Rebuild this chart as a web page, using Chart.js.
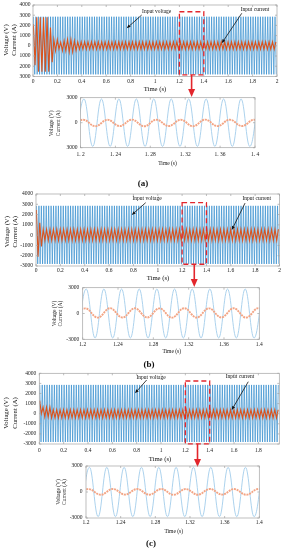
<!DOCTYPE html>
<html>
<head>
<meta charset="utf-8">
<script src="https://cdn.jsdelivr.net/npm/chart.js@4.4.1/dist/chart.umd.min.js"></script>
<style>
  body { margin: 0; background: #fff; width: 285px; height: 550px; position: relative; overflow: hidden; }
  canvas { position: absolute; left: 0; }
  .tag { position: absolute; font: bold 9px "Liberation Serif", serif; color: #111; transform: translate(-50%, -50%); }
</style>
</head>
<body>
<canvas id="ovA"></canvas>
<canvas id="zmA"></canvas>
<canvas id="ovB"></canvas>
<canvas id="zmB"></canvas>
<canvas id="ovC"></canvas>
<canvas id="zmC"></canvas>
<div class="tag" style="left:143px;top:183px">(a)</div>
<div class="tag" style="left:149px;top:364px">(b)</div>
<div class="tag" style="left:151px;top:543px">(c)</div>
<script>
// --- data ---
// peak timing (from the 1.2-1.4 s windows): voltage 50 Hz, current a bit slower
const voltFirstPeak = 0.004;
const voltHalf = 0.01;
const curFirstPeak = 0.003;
const curHalf = 0.014;

// overview envelopes: segment start (s), upper peak, lower peak
const voltSegStart = [0];
const voltSegHi = [2850];
const voltSegLo = [-2800];

const curSegStartA = [0, 0.02, 0.13, 0.16, 0.2, 0.24, 0.27, 0.33, 0.36];
const curSegHiA = [2100, 2800, 1800, 600, 350, 500, 620, 480, 390];
const curSegLoA = [-1900, -2550, -1600, -500, -330, -480, -600, -460, -350];

const curSegStartB = [0, 0.02, 0.05];
const curSegHiB = [2450, 1200, 570];
const curSegLoB = [-2100, -1100, -500];

const curSegStartC = [0, 0.02, 0.09];
const curSegHiC = [1300, 650, 390];
const curSegLoC = [0, -320, -420];

// zoom windows: successive peaks starting at zoomVoltStart / zoomCurStart
const zoomVoltStart = 1.194;
const zoomCurStart = 1.189;
const voltZoom = [-2850, 2850, -2850, 2850, -2850, 2850, -2850, 2850, -2850, 2850, -2850,
                  2850, -2850, 2850, -2850, 2850, -2850, 2850, -2850, 2850, -2850, 2850];
const curZoomA = [-400, 360, -420, 350, -410, 370, -430, 360, -400, 350, -420, 370, -410, 360, -400, 350, -420];
const curZoomB = [-460, 600, -480, 620, -470, 610, -460, 600, -480, 620, -470, 600, -460, 610, -480, 620, -470];
const curZoomC = [-310, 340, -320, 350, -300, 340, -310, 350, -320, 340, -310, 350, -300, 340, -320, 350, -310];

// tick labels
const ovXTicks = [0, 0.2, 0.4, 0.6, 0.8, 1, 1.2, 1.4, 1.6, 1.8, 2];
const ovXTicksC = [0, 0.2, 0.4, 0.6, 0.8, 1, 1.2, 1.4, 1.6, 1.8];
const ovYTicks = [4000, 3000, 2000, 1000, 0, -1000, -2000, -3000];
const zmXTicks = [1.2, 1.24, 1.28, 1.32, 1.36, 1.4];
const zmYTicks = [3000, 0, -3000];

// --- helpers ---
function peaks(first, half, tEnd, starts, his, los) {
  const pts = [];
  for (let k = 0; first + k * half <= tEnd; k++) {
    const t = first + k * half;
    let s = 0;
    while (s + 1 < starts.length && starts[s + 1] <= t) s++;
    pts.push({ x: t, y: k % 2 === 0 ? his[s] : los[s] });
  }
  return pts;
}

function series(start, step, vals) {
  return vals.map((v, i) => ({ x: start + i * step, y: v }));
}

const serif = '"Liberation Serif", serif';
const RED = '#e3262c';

function arrow(ctx, x1, y1, x2, y2, len, wid, color, lw) {
  const ang = Math.atan2(y2 - y1, x2 - x1);
  const bx = x2 - len * Math.cos(ang), by = y2 - len * Math.sin(ang);
  ctx.strokeStyle = color; ctx.fillStyle = color; ctx.lineWidth = lw; ctx.setLineDash([]);
  ctx.beginPath(); ctx.moveTo(x1, y1); ctx.lineTo(bx, by); ctx.stroke();
  ctx.beginPath();
  ctx.moveTo(x2, y2);
  ctx.lineTo(bx + wid / 2 * Math.sin(ang), by - wid / 2 * Math.cos(ang));
  ctx.lineTo(bx - wid / 2 * Math.sin(ang), by + wid / 2 * Math.cos(ang));
  ctx.closePath(); ctx.fill();
}

function makePanel(id, p) {
  const cv = document.getElementById(id);
  const h = p.bottom - p.top;
  cv.width = 285; cv.height = h;
  cv.style.top = p.top + 'px';
  cv.style.width = '285px'; cv.style.height = h + 'px';

  const decor = {
    id: 'decor',
    afterDraw(chart) {
      const ctx = chart.ctx, a = chart.chartArea;
      const xs = chart.scales.x, ys = chart.scales.y;
      ctx.save();
      // frame with inner ticks
      ctx.strokeStyle = '#a3a3a3'; ctx.lineWidth = 0.7;
      ctx.strokeRect(a.left, a.top, a.right - a.left, a.bottom - a.top);
      ctx.beginPath();
      p.xTicks.forEach(v => {
        const x = xs.getPixelForValue(v);
        ctx.moveTo(x, a.bottom); ctx.lineTo(x, a.bottom - 2);
        ctx.moveTo(x, a.top); ctx.lineTo(x, a.top + 2);
      });
      p.yTicks.forEach(v => {
        const y = ys.getPixelForValue(v);
        ctx.moveTo(a.left, y); ctx.lineTo(a.left + 2, y);
        ctx.moveTo(a.right, y); ctx.lineTo(a.right - 2, y);
      });
      ctx.stroke();

      // axis titles
      ctx.fillStyle = '#111';
      ctx.textAlign = 'center'; ctx.textBaseline = 'middle';
      ctx.font = p.titleSize + 'px ' + serif;
      ctx.fillText('Time (s)', p.xTitle[0], p.xTitle[1] - p.top);
      ['Voltage (V)', 'Current (A)'].forEach((txt, i) => {
        ctx.save();
        ctx.translate(p.yTitleX[i], p.yTitleY - p.top);
        ctx.rotate(-Math.PI / 2);
        ctx.fillText(txt, 0, 0);
        ctx.restore();
      });

      // labels with black arrows
      (p.notes || []).forEach(n => {
        ctx.fillStyle = '#111';
        ctx.font = '5.5px ' + serif;
        ctx.fillText(n.text, xs.getPixelForValue(n.at[0]), ys.getPixelForValue(n.at[1]));
        arrow(ctx, xs.getPixelForValue(n.from[0]), ys.getPixelForValue(n.from[1]),
              xs.getPixelForValue(n.to[0]), ys.getPixelForValue(n.to[1]), 4, 3.2, '#111', 0.8);
      });

      // red dashed zoom box and arrow down to the zoom panel
      if (p.box) {
        const x1 = xs.getPixelForValue(p.box[0]), x2 = xs.getPixelForValue(p.box[1]);
        const y1 = ys.getPixelForValue(p.box[3]), y2 = ys.getPixelForValue(p.box[2]);
        ctx.strokeStyle = RED; ctx.lineWidth = 1.3; ctx.setLineDash([5, 3]);
        ctx.strokeRect(x1, y1, x2 - x1, y2 - y1);
        const cx = (x1 + x2) / 2;
        arrow(ctx, cx, y2, cx, p.arrowTip - p.top, 8, 7, RED, 1.6);
      }
      ctx.restore();
    }
  };

  const tickFont = { family: serif, size: 5.5 };
  new Chart(cv, {
    type: 'line',
    data: { datasets: p.datasets },
    options: {
      responsive: false,
      animation: false,
      devicePixelRatio: 1,
      parsing: false,
      layout: { padding: { top: p.T - p.top, right: 285 - p.R, left: 0, bottom: 0 } },
      plugins: { legend: { display: false }, tooltip: { enabled: false } },
      elements: { point: { radius: 0 } },
      scales: {
        x: {
          type: 'linear', min: p.xMin, max: p.xMax,
          afterFit: s => { s.height = p.bottom - p.B; s.paddingLeft = 0; s.paddingRight = 0; },
          afterBuildTicks: s => { s.ticks = p.xTicks.map(v => ({ value: v })); },
          grid: { display: false, drawTicks: false },
          border: { display: false },
          ticks: { autoSkip: false, maxRotation: 0, minRotation: 0, padding: p.xPad,
                   font: tickFont, color: '#222', callback: p.xFmt }
        },
        y: {
          type: 'linear', min: p.yMin, max: p.yMax,
          afterFit: s => { s.width = p.L; s.paddingTop = 0; s.paddingBottom = 0; },
          afterBuildTicks: s => { s.ticks = p.yTicks.map(v => ({ value: v })); },
          grid: { display: false, drawTicks: false },
          border: { display: false },
          ticks: { autoSkip: false, padding: p.yPad, font: tickFont, color: '#222', callback: p.yFmt }
        }
      }
    },
    plugins: [decor]
  });
}

function ovSets(tEnd, starts, his, los) {
  return [
    { data: peaks(curFirstPeak, curHalf, tEnd, starts, his, los),
      borderColor: '#d9531e', borderWidth: 1.1, tension: 0 },
    { data: peaks(voltFirstPeak, voltHalf, tEnd, voltSegStart, voltSegHi, voltSegLo),
      borderColor: '#3a91d0', borderWidth: 0.7, tension: 0 }
  ];
}

function zmSets(cur) {
  return [
    { data: series(zoomCurStart, curHalf, cur),
      borderColor: '#f3a585', borderWidth: 1.9, borderDash: [2, 0.8], tension: 0.4 },
    { data: series(zoomVoltStart, voltHalf, voltZoom),
      borderColor: '#a3cdeb', borderWidth: 0.9, tension: 0.4 }
  ];
}

const plain = v => String(v);
const noMinus = v => String(Math.abs(v));

// (a)
makePanel('ovA', {
  top: 0, bottom: 100, L: 33, R: 277, T: 5, B: 76.4,
  xMin: 0, xMax: 2, yMin: -3000, yMax: 4000,
  xTicks: ovXTicks, yTicks: ovYTicks, xFmt: plain, yFmt: noMinus, xPad: 2, yPad: 2.5,
  titleSize: 6.7, xTitle: [155, 89], yTitleX: [6.7, 14.3], yTitleY: 40,
  datasets: ovSets(2, curSegStartA, curSegHiA, curSegLoA),
  notes: [
    { text: 'Input voltage', at: [1.014, 3343], from: [0.891, 3020], to: [0.768, 1716] },
    { text: 'Input current', at: [1.82, 3510], from: [1.711, 3186], to: [1.547, 245] }
  ],
  box: [1.2, 1.4, -2850, 3340], arrowTip: 97
});
makePanel('zmA', {
  top: 92, bottom: 168, L: 80.5, R: 255, T: 97.7, B: 147.7,
  xMin: 1.2, xMax: 1.4, yMin: -3000, yMax: 3000,
  xTicks: zmXTicks, yTicks: zmYTicks, xFmt: v => String(v).replace('.', '. '), yFmt: noMinus,
  xPad: 3.5, yPad: 3,
  titleSize: 5.5, xTitle: [167.5, 163.3], yTitleX: [52, 59], yTitleY: 123.3,
  datasets: zmSets(curZoomA)
});

// (b)
makePanel('ovB', {
  top: 185, bottom: 290, L: 36, R: 279.5, T: 194, B: 266,
  xMin: 0, xMax: 2, yMin: -3000, yMax: 4000,
  xTicks: ovXTicks, yTicks: ovYTicks, xFmt: plain, yFmt: plain, xPad: 1.5, yPad: 3,
  titleSize: 6.7, xTitle: [158, 278], yTitleX: [7.3, 15], yTitleY: 231.7,
  datasets: ovSets(2, curSegStartB, curSegHiB, curSegLoB),
  notes: [
    { text: 'Input voltage', at: [0.912, 3582], from: [0.901, 3154], to: [0.786, 1959] },
    { text: 'Input current', at: [1.813, 3514], from: [1.717, 3115], to: [1.608, 501] }
  ],
  box: [1.2, 1.4, -2830, 3155], arrowTip: 287
});
makePanel('zmB', {
  top: 280, bottom: 356, L: 82.7, R: 259.3, T: 287.7, B: 339.3,
  xMin: 1.2, xMax: 1.4, yMin: -3000, yMax: 3000,
  xTicks: zmXTicks, yTicks: zmYTicks, xFmt: plain, yFmt: plain, xPad: 2.3, yPad: 3.5,
  titleSize: 5.5, xTitle: [171.7, 351.7], yTitleX: [55, 61], yTitleY: 313.5,
  datasets: zmSets(curZoomB)
});

// (c)
makePanel('ovC', {
  top: 366, bottom: 470, L: 39.3, R: 279.3, T: 373.3, B: 444,
  xMin: 0, xMax: 1.972, yMin: -3000, yMax: 4000,
  xTicks: ovXTicksC, yTicks: ovYTicks, xFmt: plain, yFmt: plain, xPad: 3.5, yPad: 3,
  titleSize: 6.7, xTitle: [160, 459.3], yTitleX: [6.7, 15], yTitleY: 413,
  datasets: ovSets(1.972, curSegStartC, curSegHiC, curSegLoC),
  notes: [
    { text: 'Input voltage', at: [0.918, 3604], from: [0.882, 3337], to: [0.786, 2020] },
    { text: 'Input current', at: [1.649, 3663], from: [1.717, 3168], to: [1.581, 367] }
  ],
  box: [1.2, 1.4, -2980, 3240], arrowTip: 467
});
makePanel('zmC', {
  top: 460, bottom: 536, L: 86, R: 259.3, T: 466, B: 518,
  xMin: 1.2, xMax: 1.4, yMin: -3000, yMax: 3000,
  xTicks: zmXTicks, yTicks: zmYTicks, xFmt: plain, yFmt: plain, xPad: 1.6, yPad: 3.5,
  titleSize: 5.5, xTitle: [173.7, 531.3], yTitleX: [58.3, 64.3], yTitleY: 492,
  datasets: zmSets(curZoomC)
});
</script>
</body>
</html>
